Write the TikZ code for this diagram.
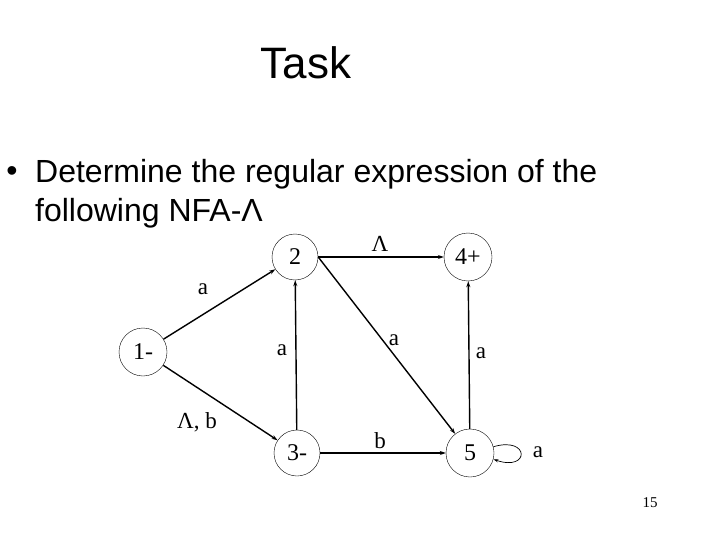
\documentclass[tikz,border=0pt]{standalone}
\usepackage{fontspec}
\setmainfont{Liberation Sans}
\newfontfamily\labelfont{Liberation Serif}
\usetikzlibrary{arrows.meta}

\begin{document}
\begin{tikzpicture}[x=1pt, y=-1pt,
    state/.style={draw, circle, minimum size=48pt, inner sep=0pt,
        font=\labelfont\fontsize{24}{24}\selectfont},
    edge/.style={-{Stealth[length=6pt, width=4pt]}, line width=1.4pt},
    lbl/.style={font=\labelfont\fontsize{23}{23}\selectfont}]
    \useasboundingbox (0,0) rectangle (720,540);

    % Title
    \node[font=\fontsize{44}{44}\selectfont, anchor=base] (title) at (306,79) {Task};

    % Question
    \node[font=\fontsize{32}{32}\selectfont, anchor=center] (bullet) at (12,174) {\textbullet};
    \node[font=\fontsize{32}{39}\selectfont, anchor=base west, align=left, inner sep=0pt]
        (question) at (35,222) {Determine the regular expression of the\\following NFA-Λ};

    % States
    \node[state] (s1) at (143,352) {1-};
    \node[state, minimum size=46pt] (s2) at (295,257) {2};
    \node[state, minimum size=46pt] (s3) at (297,453) {3-};
    \node[state] (s4) at (468,257) {4+};
    \node[state] (s5) at (470,453) {5};

    % Transitions
    \draw[edge] (s1) -- (s2);
    \draw[edge] (s1) -- (s3);
    \draw[edge] (s3) -- (s2);
    \draw[edge] (s2.east) -- (s4.west);
    \draw[edge] (s2.east) -- (s5);
    \draw[edge] (s3) -- (s5);
    \draw[edge] (s5) -- (s4);
    \draw[-{Stealth[length=5pt, width=3pt]}, line width=0.7pt]
        (s5.15) .. controls (530,436) and (530,472) .. (s5.-15);

    % Labels
    \node[lbl] (l12) at (203,289) {a};
    \node[lbl] (l32) at (282,350) {a};
    \node[lbl] (l25) at (394,340) {a};
    \node[lbl] (l54) at (481,353) {a};
    \node[lbl] (l24) at (380,244) {Λ};
    \node[lbl] (l13) at (197,422) {Λ, b};
    \node[lbl] (l35) at (380,441) {b};
    \node[lbl] (l55) at (538,452) {a};

    % Page number
    \node[font=\labelfont\fontsize{15}{15}\selectfont] (page) at (650,503) {15};
\end{tikzpicture}
\end{document}
